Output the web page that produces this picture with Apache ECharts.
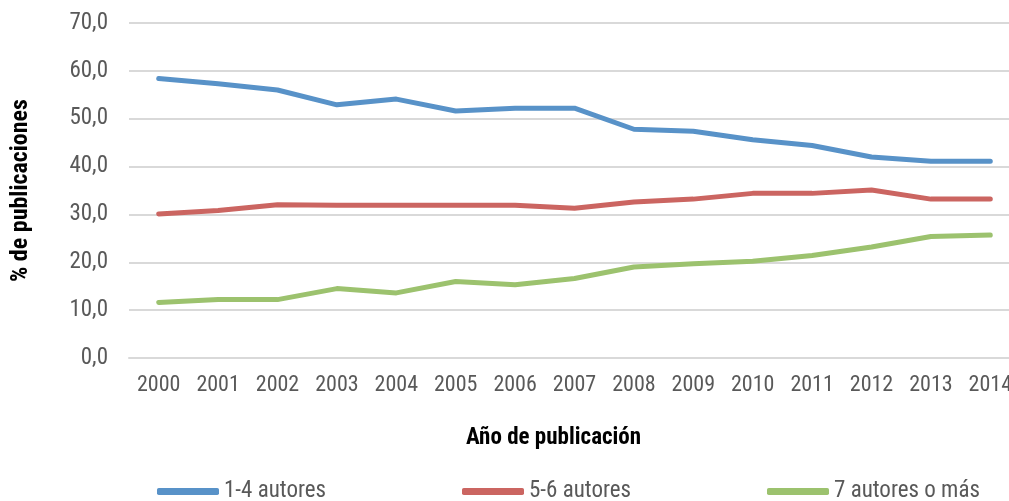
<!DOCTYPE html>
<html><head><meta charset="utf-8">
<script src="https://cdn.jsdelivr.net/npm/echarts@6/dist/echarts.min.js"></script>
<style>html,body{margin:0;padding:0;background:#fff}#c{width:1009px;height:501px}</style>
</head><body><div id="c"></div>
<script>
const years = ['2000','2001','2002','2003','2004','2005','2006','2007','2008','2009','2010','2011','2012','2013','2014'];
const autores14 = [58.4,57.3,56.0,52.9,54.1,51.6,52.2,52.2,47.8,47.4,45.6,44.4,42.0,41.1,41.1];
const autores56 = [30.1,30.8,32.0,31.9,31.9,31.9,31.9,31.3,32.6,33.2,34.4,34.4,35.1,33.2,33.2];
const autores7 = [11.6,12.2,12.2,14.5,13.6,16.0,15.3,16.6,19.0,19.7,20.2,21.4,23.2,25.4,25.7];
const seriesNames = ['1-4 autores','5-6 autores','7 autores o más'];
const colors = ['#5892C8','#CB6561','#9CC26E'];
const font = "'Roboto Condensed','Liberation Sans Narrow','Arial Narrow',sans-serif";
const chart = echarts.init(document.getElementById('c'));
const mkLegend = (name, left) => ({
  data:[name], left:left, top:480, itemWidth:62, itemHeight:7, icon:'roundRect',
  itemGap:8, padding:0, textStyle:{fontFamily:font,fontSize:23,color:'#595959',padding:[0,0,0,0]}
});
chart.setOption({
  animation:false,
  color:colors,
  grid:{left:129,width:891,top:23,bottom:143,containLabel:false,outerBoundsMode:'none'},
  legend:[mkLegend(seriesNames[0],157),mkLegend(seriesNames[1],462),mkLegend(seriesNames[2],767)],
  xAxis:{type:'category',data:years,boundaryGap:true,
    name:'Año de publicación',nameLocation:'middle',nameGap:69,
    nameTextStyle:{fontFamily:font,fontWeight:'bold',fontSize:23,color:'#000',padding:[0,42,0,0]},
    axisLine:{lineStyle:{color:'#d9d9d9',width:2}},axisTick:{show:false},
    axisLabel:{interval:0,fontFamily:font,fontSize:22,color:'#595959',margin:16}},
  yAxis:{type:'value',min:0,max:70,interval:10,
    name:'% de publicaciones',nameLocation:'middle',nameGap:96,
    nameTextStyle:{fontFamily:font,fontWeight:'bold',fontSize:24,color:'#000'},
    axisLine:{show:false},axisTick:{show:false},
    axisLabel:{fontFamily:font,fontSize:23,color:'#595959',margin:21,
      formatter:v=>v.toFixed(1).replace('.',',')},
    splitLine:{lineStyle:{color:'#d9d9d9',width:2}}},
  series:[
    {name:seriesNames[0],type:'line',data:autores14,symbol:'none',lineStyle:{width:5,cap:'round',join:'round'}},
    {name:seriesNames[1],type:'line',data:autores56,symbol:'none',lineStyle:{width:5,cap:'round',join:'round'}},
    {name:seriesNames[2],type:'line',data:autores7,symbol:'none',lineStyle:{width:5,cap:'round',join:'round'}}
  ]
});
</script></body></html>
